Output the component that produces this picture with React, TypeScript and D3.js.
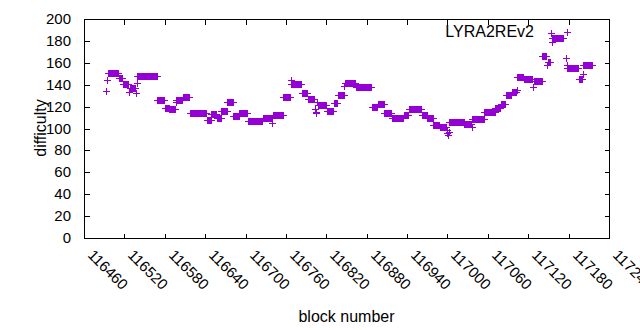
import React from 'react';
import * as d3 from 'd3';

const width = 640;
const height = 330;
const left = 84;
const right = 609;
const top = 19;
const bottom = 238;

const purple = '#9400d3';
const font = '"Liberation Sans", Arial, sans-serif';

// runs of consecutive blocks sharing one difficulty: [first block, last block]
const runStart = [
  116492, 116494, 116495, 116512, 116518, 116527, 116528, 116537, 116538, 116539,
  116569, 116580, 116587, 116596, 116597, 116607, 116617, 116642, 116649, 116657,
  116664, 116673, 116682, 116691, 116703, 116726, 116740, 116741, 116756, 116767,
  116768, 116784, 116793, 116803, 116804, 116805, 116806, 116807, 116821, 116831,
  116837, 116847, 116848, 116864, 116888, 116897, 116906, 116917, 116935, 116943,
  116962, 116970, 116979, 116989, 116999, 117000, 117001, 117002, 117003, 117025,
  117036, 117037, 117055, 117071, 117079, 117087, 117096, 117103, 117104, 117113,
  117127, 117128, 117141, 117148, 117149, 117154, 117155, 117156, 117176, 117177,
  117178, 117195, 117201, 117202,
];
const runEnd = [
  116492, 116494, 116511, 116517, 116526, 116527, 116536, 116537, 116538, 116568,
  116579, 116586, 116595, 116596, 116606, 116616, 116641, 116648, 116656, 116663,
  116672, 116681, 116690, 116702, 116725, 116739, 116740, 116755, 116766, 116767,
  116783, 116792, 116802, 116803, 116804, 116805, 116806, 116820, 116830, 116836,
  116846, 116847, 116863, 116887, 116896, 116905, 116916, 116934, 116942, 116961,
  116969, 116978, 116988, 116998, 116999, 117000, 117001, 117002, 117024, 117035,
  117036, 117054, 117070, 117078, 117086, 117095, 117102, 117103, 117112, 117126,
  117127, 117140, 117147, 117148, 117153, 117154, 117155, 117172, 117176, 117177,
  117194, 117200, 117201, 117214,
];
const runDifficulty = [
  134, 144, 151, 146, 141, 133, 137, 132, 142, 148,
  126, 119, 117.5, 124, 126, 128.5, 114, 108, 113, 110,
  116, 124, 111.5, 114, 106.5, 110, 105, 112, 128.5, 144,
  141, 132, 127, 118, 115, 114, 124, 121.5, 116, 123,
  130.5, 139, 142, 137.6, 119.3, 122, 114, 110, 112, 118,
  112.3, 109.3, 103.2, 101.6, 99, 96, 94, 97, 106.2, 104,
  101, 108.4, 115.3, 118.4, 122, 131, 133.6, 135, 146.7, 145.2,
  137.6, 143.7, 166, 158, 161, 187, 179, 183, 164, 158,
  155, 145, 150, 157.7,
];

const xTicks = d3.range(116460, 117241, 60);
const yTicks = d3.range(0, 201, 20);
const seriesName = 'LYRA2REv2';

const xScale = d3.scaleLinear().domain([116460, 117240]).range([left, right]);
const yScale = d3.scaleLinear().domain([0, 200]).range([bottom, top]);

function plusPath(px: number, py: number) {
  const cx = Math.round(px);
  const cy = Math.round(py);
  return `M${cx - 3},${cy + 0.5}h7M${cx + 0.5},${cy - 3}v7`;
}

export default function App() {
  const points: { block: number; value: number }[] = [];
  runStart.forEach((s, i) => {
    for (let b = s; b <= runEnd[i]; b++) points.push({ block: b, value: runDifficulty[i] });
  });
  const marks = points.map(p => plusPath(xScale(p.block), yScale(p.value))).join('');

  return (
    <div style={{ position: 'absolute', left: 0, top: 0 }}>
      <svg width={width} height={height} viewBox={`0 0 ${width} ${height}`} style={{ display: 'block', background: '#fff' }}>
        <rect width={width} height={height} fill="#fff" />
        <g shapeRendering="crispEdges" stroke="#000" fill="none">
          {yTicks.map(t => {
            const yy = Math.round(yScale(t)) + 0.5;
            return (
              <path key={'y' + t} d={`M${left + 0.5},${yy}h5M${right + 0.5},${yy}h-5`} />
            );
          })}
          {xTicks.map(t => {
            const xx = Math.round(xScale(t)) + 0.5;
            return (
              <path key={'x' + t} d={`M${xx},${bottom + 0.5}v-5M${xx},${top + 0.5}v5`} />
            );
          })}
          <rect x={left + 0.5} y={top + 0.5} width={right - left} height={bottom - top} />
        </g>
        <g fontFamily={font} fontSize={15} fill="#000">
          {yTicks.map(t => (
            <text key={'yl' + t} x={71} y={Math.round(yScale(t))} dy="0.36em" textAnchor="end">{t}</text>
          ))}
          {xTicks.map(t => {
            const xx = Math.round(xScale(t)) + 3;
            return (
              <text key={'xl' + t} x={xx} y={256} transform={`rotate(45,${xx},256)`}>{t}</text>
            );
          })}
          <text x={(left + right) / 2} y={322} textAnchor="middle" fontSize={16}>block number</text>
          <text x={0} y={0} transform="translate(46,128) rotate(-90)" textAnchor="middle" fontSize={16}>difficulty</text>
          <text x={534} y={37} textAnchor="end" fontSize={16}>{seriesName}</text>
        </g>
        <g shapeRendering="crispEdges" stroke={purple} strokeWidth={1} fill="none">
          <path d={marks} />
          <path d={plusPath(567, 32)} />
        </g>
      </svg>
    </div>
  );
}
